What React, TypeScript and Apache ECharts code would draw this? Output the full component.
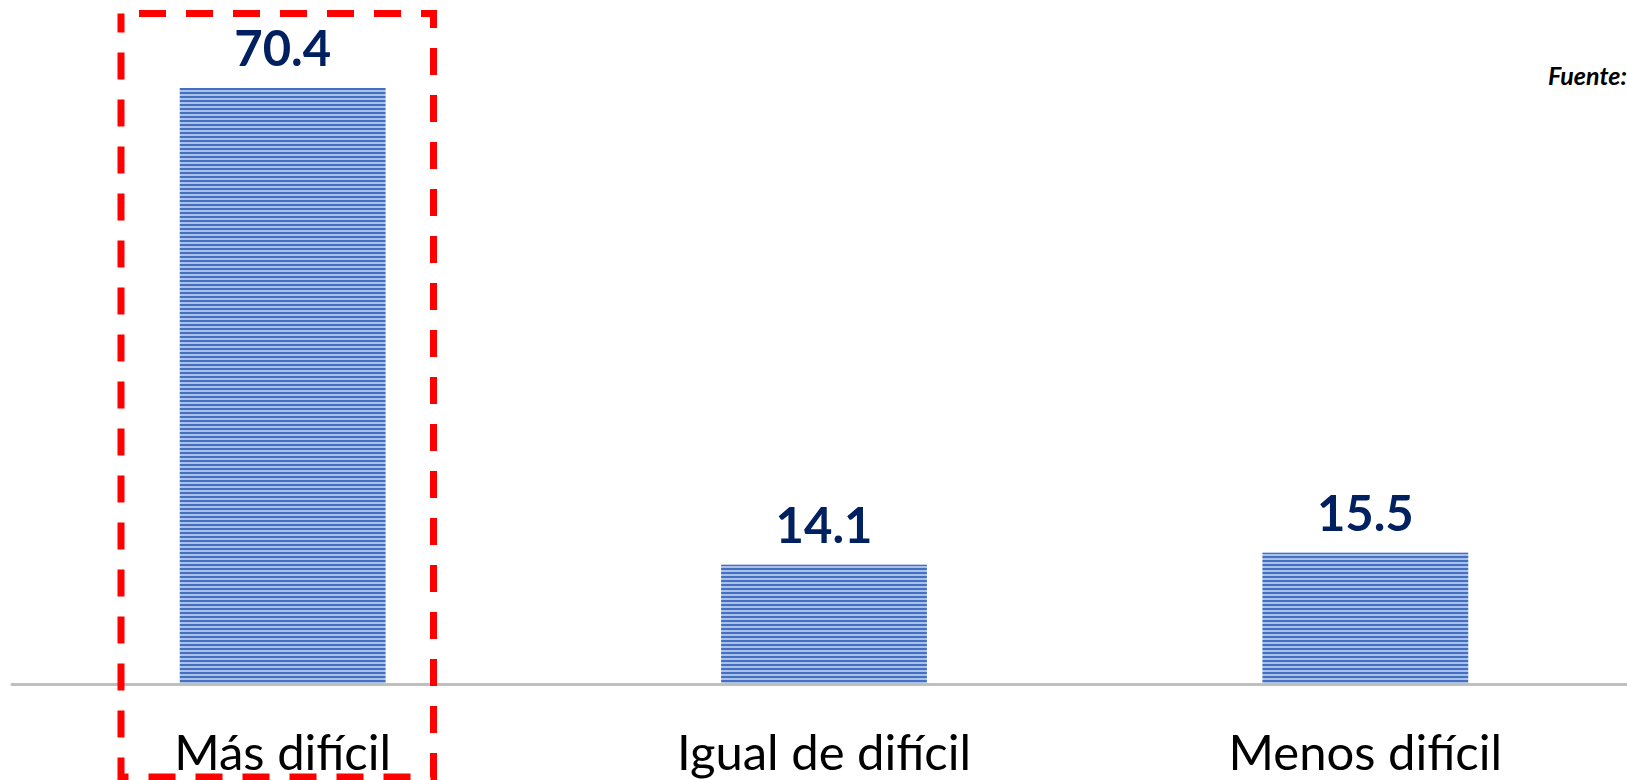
import React, { useEffect, useRef } from "react";
import * as echarts from "echarts";

const categories = ["Más difícil", "Igual de difícil", "Menos difícil"];
const values = [70.4, 14.1, 15.5];
const sourceText = "Fuente:";

export default function App() {
  const ref = useRef<HTMLDivElement>(null);
  useEffect(() => {
    if (!ref.current) return;
    const chart = echarts.init(ref.current, undefined, { renderer: "svg" });
    chart.setOption({
      animation: false,
      grid: { left: 12, top: 6.7, width: 1624, height: 677.3, containLabel: false },
      xAxis: {
        type: "category",
        data: categories,
        axisLine: { show: true, lineStyle: { color: "#BFBFBF", width: 3 } },
        axisTick: { show: false },
        axisLabel: {
          color: "#000000",
          fontFamily: "Lato",
          fontSize: 49,
          margin: 42,
        },
      },
      yAxis: {
        type: "value",
        min: 0,
        max: 80,
        show: false,
        splitLine: { show: false },
      },
      series: [
        {
          type: "bar",
          data: values,
          barWidth: "38%",
          itemStyle: {
            color: "#AAC2EA",
            decal: {
              symbol: "rect",
              symbolSize: 1,
              dashArrayX: [1, 0],
              dashArrayY: [2, 2],
              color: "#4470C2",
              rotation: 0,
            },
          },
          label: {
            show: true,
            position: "top",
            distance: 16,
            color: "#002060",
            fontFamily: "Lato",
            fontWeight: "bold",
            fontSize: 49,
            formatter: (p: any) => p.value.toFixed(1),
          },
        },
      ],
      graphic: [
        {
          type: "rect",
          shape: { x: 121, y: 13.5, width: 312.5, height: 763.5 },
          style: {
            fill: "none",
            stroke: "#FF0000",
            lineWidth: 7,
            lineDash: [27, 20],
            lineDashOffset: 29,
          },
          z: 100,
        },
        {
          type: "text",
          left: 1548,
          top: 62,
          style: {
            text: sourceText,
            fontFamily: "Lato",
            fontWeight: "bold",
            fontStyle: "italic",
            fontSize: 25,
            fill: "#000000",
          },
        },
      ],
    });
    return () => chart.dispose();
  }, []);
  return (
    <div
      style={{ position: "fixed", left: 0, top: 0, width: 1627, height: 780, overflow: "hidden", background: "#ffffff" }}
    >
      <div ref={ref} style={{ width: 1640, height: 780 }} />
    </div>
  );
}
